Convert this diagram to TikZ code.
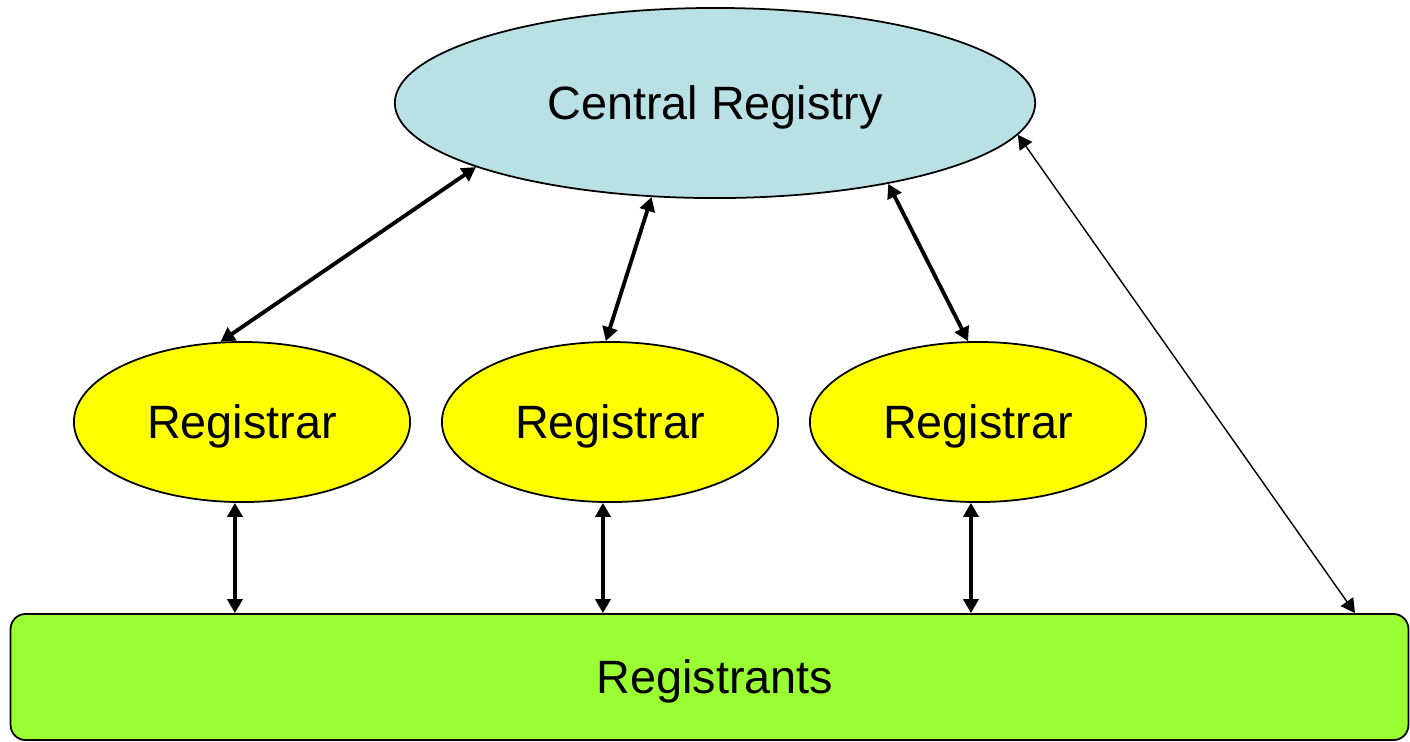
\documentclass[tikz,border=0pt]{standalone}
\usepackage{fontspec}
\setmainfont{Liberation Sans}
\usetikzlibrary{arrows.meta, positioning, shapes.geometric}
\definecolor{registryblue}{RGB}{185,224,228}
\definecolor{registraryellow}{RGB}{255,255,0}
\definecolor{registrantgreen}{RGB}{153,255,51}

\begin{document}
\begin{tikzpicture}[x=0.01cm, y=-0.01cm,
    every node/.style={font=\fontsize{13.3}{16}\selectfont, inner sep=0pt, text depth=0pt},
    oval/.style={ellipse, draw, line width=0.5pt},
    link/.style={{Triangle[length=4pt,width=4.3pt]}-{Triangle[length=4pt,width=4.3pt]}, line width=1.1pt},
    thinlink/.style={{Triangle[length=4pt,width=4.3pt]}-{Triangle[length=4pt,width=4.3pt]}, line width=0.4pt}]
    \useasboundingbox (0,0) rectangle (1410,741);

    % Central registry and registrars
    \node[oval, fill=registryblue, minimum width=6.4cm, minimum height=1.9cm] (cr) at (715,103) {Central Registry};
    \node[oval, fill=registraryellow, minimum width=3.36cm, minimum height=1.6cm] (r1) at (242,422) {Registrar};
    \node[oval, fill=registraryellow, minimum width=3.36cm, minimum height=1.6cm] (r2) at (610,422) {Registrar};
    \node[oval, fill=registraryellow, minimum width=3.36cm, minimum height=1.6cm] (r3) at (978,422) {Registrar};

    % Registrants bar
    \node[draw, line width=0.5pt, rounded corners=0.15cm, fill=registrantgreen,
          minimum width=13.97cm, minimum height=1.26cm] (rg) at (709.5,677) {};
    \node (rgtext) at ([xshift=0.055cm]rg.center) {Registrants};

    % Registry <-> registrars
    \draw[link] (r1.105) -- (cr.195);
    \draw[link] (r2.93) -- (cr.236);
    \draw[link] (cr.335.5) -- (r3.97);
    \draw[thinlink] (cr.354) -- (1355,0 |- rg.north);

    % Registrars <-> registrants
    \draw[link] (r1.265) -- (r1.265 |- rg.north);
    \draw[link] (r2.265) -- (r2.265 |- rg.north);
    \draw[link] (r3.265) -- (r3.265 |- rg.north);
\end{tikzpicture}
\end{document}
